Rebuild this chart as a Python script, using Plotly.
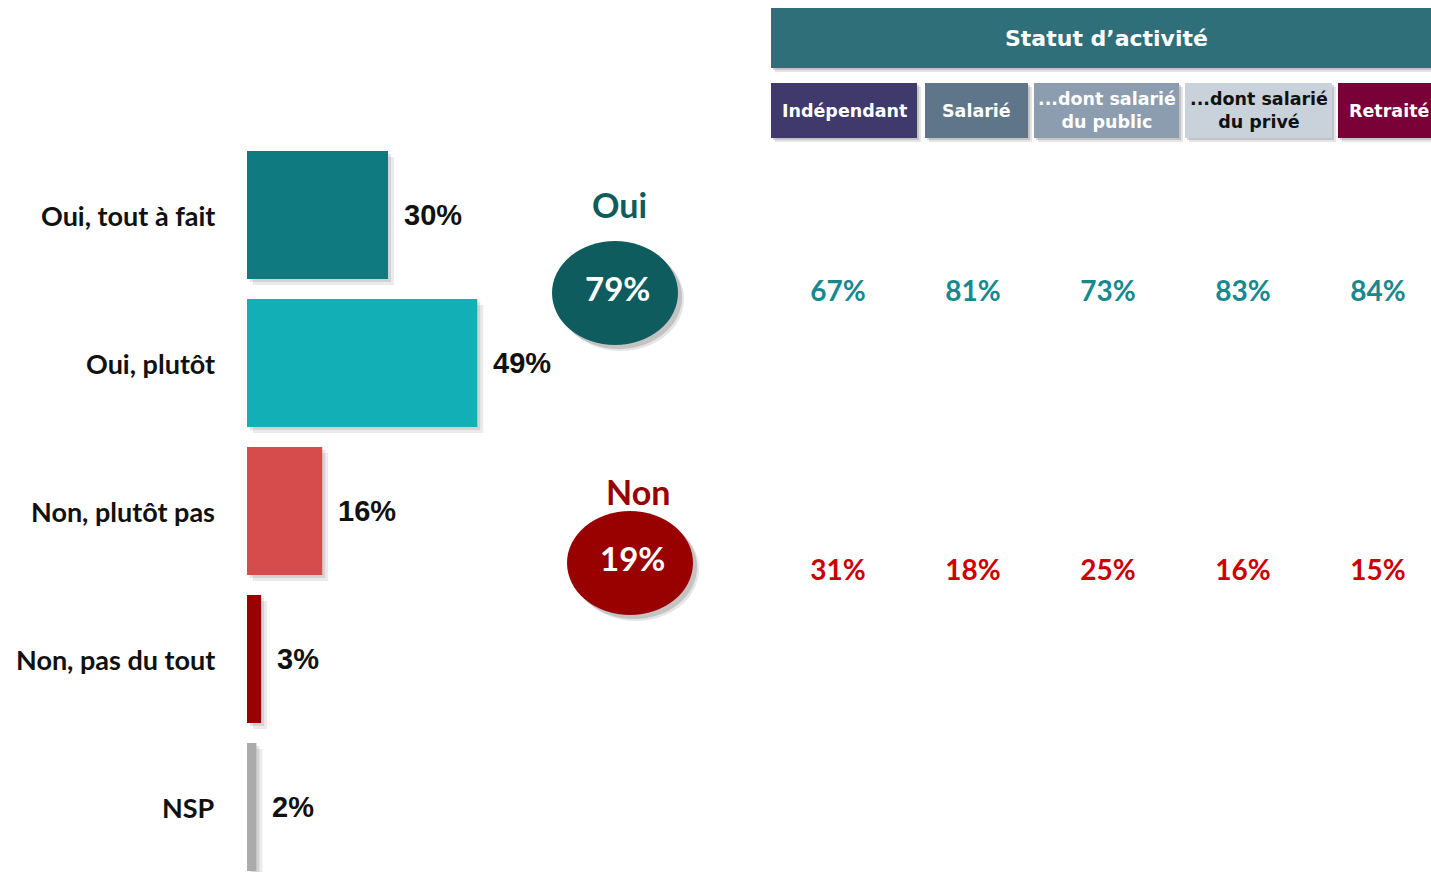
import plotly.graph_objects as go

# ---------------- data ----------------
categories = ["Oui, tout à fait", "Oui, plutôt", "Non, plutôt pas", "Non, pas du tout", "NSP"]
values = [30, 49, 16, 3, 2]
bar_colors = ["#0F7A80", "#13AFB6", "#D64B4B", "#990000", "#ABABAB"]

groups = ["Indépendant", "Salarié", "...dont salarié<br>du public", "...dont salarié<br>du privé", "Retraité"]
group_keys = ["Indépendant", "Salarié", "public", "privé", "Retraité"]
group_colors = ["#3F3A6B", "#5F7589", "#8C9DAF", "#C9D2DB", "#7A0038"]
group_text_colors = ["white", "white", "white", "#111111", "white"]
oui_by_group = [67, 81, 73, 83, 84]
non_by_group = [31, 18, 25, 16, 15]
rows = ["Oui", "Non"]

W, H = 1431, 872
PX_PER_PCT = 4.7
X0_PX = 247
PITCH = 148
FIRST_CENTER = 215

def px(x):
    return x / W

def py(y):
    return 1 - y / H

fig = go.Figure()

# main bars
fig.add_trace(go.Bar(
    x=values, y=categories, orientation="h",
    marker=dict(color=bar_colors, line=dict(width=0)),
    width=0.865, hoverinfo="skip",
    xaxis="x", yaxis="y",
))

# table values
fig.add_trace(go.Scatter(
    x=group_keys, y=[rows[0]] * len(group_keys), mode="text",
    text=[f"{v}%" for v in oui_by_group],
    textfont=dict(family="Lato", size=28, color="#17898E", weight="bold"),
    xaxis="x2", yaxis="y2", hoverinfo="skip",
))
fig.add_trace(go.Scatter(
    x=group_keys, y=[rows[1]] * len(group_keys), mode="text",
    text=[f"{v}%" for v in non_by_group],
    textfont=dict(family="Lato", size=28, color="#CC0000", weight="bold"),
    xaxis="x2", yaxis="y2", hoverinfo="skip",
))

shapes = []
annotations = []

# bar shadows
dx1 = 3 / PX_PER_PCT
dy1 = 3 / PITCH
for i, v in enumerate(values):
    for k, a in [(1, 0.10), (2, 0.08)]:
        shapes.append(dict(
            type="rect", xref="x", yref="y", layer="below",
            x0=dx1 * k, x1=v + dx1 * k,
            y0=i - 0.4325 + dy1 * k, y1=i + 0.4325 + dy1 * k,
            fillcolor=f"rgba(0,0,0,{a})", line=dict(width=0),
        ))

# category labels and value labels
for i, (c, v) in enumerate(zip(categories, values)):
    annotations.append(dict(
        x=px(217), xref="paper", y=c, yref="y", xanchor="right", yanchor="middle",
        text=f"<b>{c}</b>", showarrow=False,
        font=dict(family="Lato", size=27, color="#111111"),
    ))
    annotations.append(dict(
        x=v, xref="x", y=c, yref="y", xanchor="left", yanchor="middle", xshift=14,
        text=f"<b>{v}%</b>", showarrow=False,
        font=dict(family="Liberation Sans", size=29, color="#111111"),
    ))

# Oui / Non summary ellipses
oui_total = values[0] + values[1]
non_total = values[2] + values[3]
ellipses = [
    ("Oui", oui_total, 615, 293, 619, 205, "#0E5C5E"),
    ("Non", non_total, 630, 563, 638, 492, "#990000"),
]
for label, tot, cx, cy, lx, ly, col in ellipses:
    rx, ry = 63, 52
    for off, a in [(6, 0.10), (4, 0.15)]:
        shapes.append(dict(
            type="circle", xref="paper", yref="paper",
            x0=px(cx - rx + off), x1=px(cx + rx + off),
            y0=py(cy + ry + off), y1=py(cy - ry + off),
            fillcolor=f"rgba(0,0,0,{a})", line=dict(width=0),
        ))
    shapes.append(dict(
        type="circle", xref="paper", yref="paper",
        x0=px(cx - rx), x1=px(cx + rx), y0=py(cy + ry), y1=py(cy - ry),
        fillcolor=col, line=dict(width=0),
    ))
    annotations.append(dict(
        x=px(cx + 2), y=py(cy - 5), xref="paper", yref="paper",
        xanchor="center", yanchor="middle",
        text=f"<b>{tot}%</b>", showarrow=False,
        font=dict(family="Lato", size=33, color="white"),
    ))
    annotations.append(dict(
        x=px(lx), y=py(ly - 1), xref="paper", yref="paper",
        xanchor="center", yanchor="middle",
        text=f"<b>{label}</b>", showarrow=False,
        font=dict(family="Lato", size=34, color=col),
    ))

# header banner
for off, a in [(4, 0.10), (2, 0.15)]:
    shapes.append(dict(
        type="rect", xref="paper", yref="paper",
        x0=px(771 + off), x1=px(1445), y0=py(68 + off), y1=py(8 + off),
        fillcolor=f"rgba(0,0,0,{a})", line=dict(width=0),
    ))
shapes.append(dict(
    type="rect", xref="paper", yref="paper",
    x0=px(771), x1=px(1445), y0=py(68), y1=py(8),
    fillcolor="#2E6F7A", line=dict(width=0),
))
annotations.append(dict(
    x=px(1106), y=py(38), xref="paper", yref="paper",
    xanchor="center", yanchor="middle",
    text="<b>Statut d’activité</b>", showarrow=False,
    font=dict(family="DejaVu Sans", size=22, color="white"),
))

box_x = [(771, 917), (925, 1028), (1034, 1179), (1185, 1332), (1338, 1445)]
for (x0, x1), g, gc, tc in zip(box_x, groups, group_colors, group_text_colors):
    for off, a in [(4, 0.10), (2, 0.15)]:
        shapes.append(dict(
            type="rect", xref="paper", yref="paper",
            x0=px(x0 + off), x1=px(x1 + off), y0=py(138 + off), y1=py(83 + off),
            fillcolor=f"rgba(0,0,0,{a})", line=dict(width=0),
        ))
    shapes.append(dict(
        type="rect", xref="paper", yref="paper",
        x0=px(x0), x1=px(x1), y0=py(138), y1=py(83),
        fillcolor=gc, line=dict(width=0),
    ))
    cx = (x0 + min(x1, 1441)) / 2
    annotations.append(dict(
        x=px(cx), y=py(111), xref="paper", yref="paper",
        xanchor="center", yanchor="middle",
        text=f"<b>{g}</b>", showarrow=False,
        font=dict(family="DejaVu Sans", size=17.5, color=tc),
    ))

# axes: pixel-calibrated ranges
x_rng = [-X0_PX / PX_PER_PCT, (W - X0_PX) / PX_PER_PCT]
y_rng = [(H - FIRST_CENTER) / PITCH, -FIRST_CENTER / PITCH]
col_c0, col_pitch = 838, 135
x2_rng = [-col_c0 / col_pitch, (W - col_c0) / col_pitch]
row_c0, row_pitch = 294, 279
y2_rng = [(H - row_c0) / row_pitch, -row_c0 / row_pitch]

fig.update_layout(
    width=W, height=H,
    margin=dict(l=0, r=0, t=0, b=0),
    paper_bgcolor="white", plot_bgcolor="white",
    showlegend=False,
    shapes=shapes, annotations=annotations,
    xaxis=dict(domain=[0, 1], range=x_rng, visible=False, fixedrange=True),
    yaxis=dict(domain=[0, 1], range=y_rng, type="category",
               categoryorder="array", categoryarray=categories,
               visible=False, fixedrange=True),
    xaxis2=dict(domain=[0, 1], range=x2_rng, type="category",
                categoryorder="array", categoryarray=group_keys,
                visible=False, overlaying="x", anchor="y2"),
    yaxis2=dict(domain=[0, 1], range=y2_rng, type="category",
                categoryorder="array", categoryarray=rows,
                visible=False, overlaying="y", anchor="x2"),
)

fig.write_html(
    "out.html",
    config={"displayModeBar": False},
    post_script="document.body.style.margin='0';document.body.style.overflow='hidden';",
)
